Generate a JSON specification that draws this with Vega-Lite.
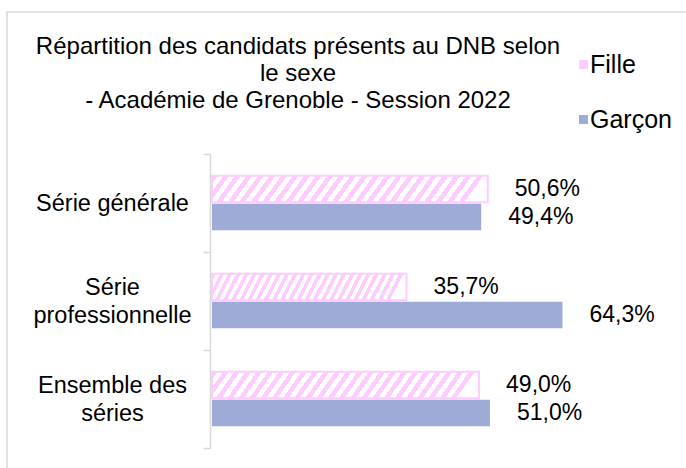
{
  "$schema": "https://vega.github.io/schema/vega-lite/v6.json",
  "autosize": {"type": "none"},
  "padding": {"left": 7, "top": 12, "right": 0, "bottom": 0},
  "width": 681,
  "height": 462,
  "background": "white",
  "config": {
    "view": {"stroke": "#d9d9d9", "strokeWidth": 1.5},
    "font": "Liberation Sans",
    "locale": {"number": {"decimal": ",", "thousands": " ", "grouping": [3], "currency": ["", " €"]}}
  },
  "title": {
    "text": ["Répartition des candidats présents au DNB selon", "le sexe", "- Académie de Grenoble - Session 2022"],
    "anchor": "start",
    "align": "center",
    "dx": 291,
    "offset": -113,
    "baseline": "top",
    "fontSize": 24,
    "fontWeight": "normal",
    "color": "black",
    "lineHeight": 27,
    "font": "Liberation Sans"
  },
  "data": {
    "values": [
      {"serie": "Série générale", "sexe": "Fille", "part": 0.506},
      {"serie": "Série générale", "sexe": "Garçon", "part": 0.494},
      {"serie": "Série professionnelle", "sexe": "Fille", "part": 0.357},
      {"serie": "Série professionnelle", "sexe": "Garçon", "part": 0.643},
      {"serie": "Ensemble des séries", "sexe": "Fille", "part": 0.490},
      {"serie": "Ensemble des séries", "sexe": "Garçon", "part": 0.510}
    ]
  },
  "encoding": {
    "y": {
      "field": "serie",
      "type": "nominal",
      "sort": null,
      "scale": {"range": [142, 436], "paddingInner": 0, "paddingOuter": 0},
      "axis": {
        "title": null,
        "orient": "left",
        "offset": -203,
        "tickBand": "extent",
        "domainColor": "#d9d9d9",
        "domainWidth": 1.5,
        "tickColor": "#d9d9d9",
        "tickWidth": 1.5,
        "tickSize": 7,
        "labelFontSize": 23.5,
        "labelColor": "black",
        "labelAlign": "center",
        "labelPadding": 91,
        "labelLimit": 0,
        "labelLineHeight": 28,
        "labelFont": "Liberation Sans",
        "labelOffset": {"condition": {"test": "datum.value !== 'Série générale'", "value": -14}, "value": 0},
        "labelExpr": "datum.value === 'Série professionnelle' ? ['Série', 'professionnelle'] : datum.value === 'Ensemble des séries' ? ['Ensemble des', 'séries'] : datum.value"
      }
    },
    "yOffset": {
      "field": "sexe",
      "type": "nominal",
      "sort": ["Fille", "Garçon"],
      "scale": {"paddingInner": 0.05, "paddingOuter": 0.775}
    },
    "x": {
      "field": "part",
      "type": "quantitative",
      "scale": {"domain": [0, 0.8], "range": [205, 641]},
      "axis": null
    }
  },
  "layer": [
    {
      "mark": {"type": "bar", "strokeWidth": 2},
      "encoding": {
        "fill": {
          "field": "sexe",
          "type": "nominal",
          "scale": {"domain": ["Fille", "Garçon"], "range": ["#ffccff", "#9dabd6"]},
          "legend": {
            "title": null,
            "orient": "none",
            "legendX": 564,
            "legendY": 40,
            "symbolType": "square",
            "symbolSize": 80,
            "labelFontSize": 25,
            "labelColor": "black",
            "labelFont": "Liberation Sans",
            "rowPadding": 29,
            "labelOffset": -6,
            "padding": 0
          },
          "condition": {
            "test": "datum.sexe === 'Fille'",
            "value": {
              "gradient": "linear", "x1": 0, "y1": 0, "x2": 1, "y2": 0.07,
              "stops": [
                {"offset": 0, "color": "#fcf"},
                {"offset": 0.0208, "color": "#fcf"}, {"offset": 0.0208, "color": "#fff"},
                {"offset": 0.0417, "color": "#fff"}, {"offset": 0.0417, "color": "#fcf"},
                {"offset": 0.0625, "color": "#fcf"}, {"offset": 0.0625, "color": "#fff"},
                {"offset": 0.0833, "color": "#fff"}, {"offset": 0.0833, "color": "#fcf"},
                {"offset": 0.1042, "color": "#fcf"}, {"offset": 0.1042, "color": "#fff"},
                {"offset": 0.125, "color": "#fff"}, {"offset": 0.125, "color": "#fcf"},
                {"offset": 0.1458, "color": "#fcf"}, {"offset": 0.1458, "color": "#fff"},
                {"offset": 0.1667, "color": "#fff"}, {"offset": 0.1667, "color": "#fcf"},
                {"offset": 0.1875, "color": "#fcf"}, {"offset": 0.1875, "color": "#fff"},
                {"offset": 0.2083, "color": "#fff"}, {"offset": 0.2083, "color": "#fcf"},
                {"offset": 0.2292, "color": "#fcf"}, {"offset": 0.2292, "color": "#fff"},
                {"offset": 0.25, "color": "#fff"}, {"offset": 0.25, "color": "#fcf"},
                {"offset": 0.2708, "color": "#fcf"}, {"offset": 0.2708, "color": "#fff"},
                {"offset": 0.2917, "color": "#fff"}, {"offset": 0.2917, "color": "#fcf"},
                {"offset": 0.3125, "color": "#fcf"}, {"offset": 0.3125, "color": "#fff"},
                {"offset": 0.3333, "color": "#fff"}, {"offset": 0.3333, "color": "#fcf"},
                {"offset": 0.3542, "color": "#fcf"}, {"offset": 0.3542, "color": "#fff"},
                {"offset": 0.375, "color": "#fff"}, {"offset": 0.375, "color": "#fcf"},
                {"offset": 0.3958, "color": "#fcf"}, {"offset": 0.3958, "color": "#fff"},
                {"offset": 0.4167, "color": "#fff"}, {"offset": 0.4167, "color": "#fcf"},
                {"offset": 0.4375, "color": "#fcf"}, {"offset": 0.4375, "color": "#fff"},
                {"offset": 0.4583, "color": "#fff"}, {"offset": 0.4583, "color": "#fcf"},
                {"offset": 0.4792, "color": "#fcf"}, {"offset": 0.4792, "color": "#fff"},
                {"offset": 0.5, "color": "#fff"}, {"offset": 0.5, "color": "#fcf"},
                {"offset": 0.5208, "color": "#fcf"}, {"offset": 0.5208, "color": "#fff"},
                {"offset": 0.5417, "color": "#fff"}, {"offset": 0.5417, "color": "#fcf"},
                {"offset": 0.5625, "color": "#fcf"}, {"offset": 0.5625, "color": "#fff"},
                {"offset": 0.5833, "color": "#fff"}, {"offset": 0.5833, "color": "#fcf"},
                {"offset": 0.6042, "color": "#fcf"}, {"offset": 0.6042, "color": "#fff"},
                {"offset": 0.625, "color": "#fff"}, {"offset": 0.625, "color": "#fcf"},
                {"offset": 0.6458, "color": "#fcf"}, {"offset": 0.6458, "color": "#fff"},
                {"offset": 0.6667, "color": "#fff"}, {"offset": 0.6667, "color": "#fcf"},
                {"offset": 0.6875, "color": "#fcf"}, {"offset": 0.6875, "color": "#fff"},
                {"offset": 0.7083, "color": "#fff"}, {"offset": 0.7083, "color": "#fcf"},
                {"offset": 0.7292, "color": "#fcf"}, {"offset": 0.7292, "color": "#fff"},
                {"offset": 0.75, "color": "#fff"}, {"offset": 0.75, "color": "#fcf"},
                {"offset": 0.7708, "color": "#fcf"}, {"offset": 0.7708, "color": "#fff"},
                {"offset": 0.7917, "color": "#fff"}, {"offset": 0.7917, "color": "#fcf"},
                {"offset": 0.8125, "color": "#fcf"}, {"offset": 0.8125, "color": "#fff"},
                {"offset": 0.8333, "color": "#fff"}, {"offset": 0.8333, "color": "#fcf"},
                {"offset": 0.8542, "color": "#fcf"}, {"offset": 0.8542, "color": "#fff"},
                {"offset": 0.875, "color": "#fff"}, {"offset": 0.875, "color": "#fcf"},
                {"offset": 0.8958, "color": "#fcf"}, {"offset": 0.8958, "color": "#fff"},
                {"offset": 0.9167, "color": "#fff"}, {"offset": 0.9167, "color": "#fcf"},
                {"offset": 0.9375, "color": "#fcf"}, {"offset": 0.9375, "color": "#fff"},
                {"offset": 0.9583, "color": "#fff"}, {"offset": 0.9583, "color": "#fcf"},
                {"offset": 0.9792, "color": "#fcf"}, {"offset": 0.9792, "color": "#fff"},
                {"offset": 1, "color": "#fff"}
              ]
            }
          }
        },
        "stroke": {"condition": {"test": "datum.sexe === 'Fille'", "value": "#ffccff"}, "value": null}
      }
    },
    {
      "mark": {"type": "text", "align": "left", "baseline": "middle", "dx": 27, "fontSize": 23, "color": "black", "font": "Liberation Sans"},
      "encoding": {
        "text": {"field": "part", "type": "quantitative", "format": ".1%"}
      }
    }
  ]
}
